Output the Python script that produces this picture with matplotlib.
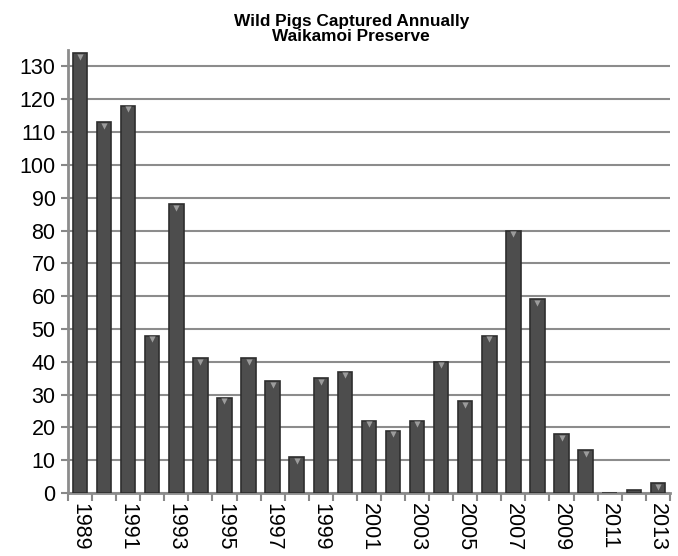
import matplotlib.pyplot as plt
import numpy as np

plt.rcParams['font.family'] = ['Liberation Sans', 'DejaVu Sans']

# Data
years = list(range(1989, 2014))
pigs = [134, 113, 118, 48, 88, 41, 29, 41, 34, 11, 35, 37, 22,
        19, 22, 40, 28, 48, 80, 59, 18, 13, 0, 1, 3]
year_labels = [str(y) if (y - 1989) % 2 == 0 else '' for y in years]

fig = plt.figure(figsize=(6.78, 5.56), dpi=100)
ax = fig.add_axes([0.1003, 0.1133, 0.8877, 0.7967])

x = np.arange(len(years))
ax.bar(x, pigs, width=0.6, color='#4d4d4d', edgecolor='#2e2e2e', linewidth=1.2, zorder=3)
# light bevel highlight on bar tops
tops = [(xi, v) for xi, v in zip(x, pigs) if v > 2]
ax.scatter([t[0] for t in tops], [t[1] - 1.1 for t in tops], marker='v', s=20,
           color='#9c9c9c', zorder=4, linewidths=0)

ax.set_xlim(-0.5, len(years) - 0.5)
ax.set_ylim(0, 135)
ax.set_yticks(range(0, 131, 10))
ax.tick_params(axis='y', labelsize=15.5, length=5, color='#888888', width=1.5, pad=4)

ax.set_xticks(x)
ax.set_xticklabels(year_labels, rotation=270, fontsize=15.5)
ax.set_xticks(np.arange(-0.5, len(years)), minor=True)
ax.tick_params(axis='x', which='major', length=0, pad=7)
ax.tick_params(axis='x', which='minor', length=6, color='#888888', width=1.5)

ax.yaxis.grid(True, color='#8c8c8c', linewidth=1.5, zorder=0)
ax.set_axisbelow(True)
for s in ['top', 'right']:
    ax.spines[s].set_visible(False)
for s in ['left', 'bottom']:
    ax.spines[s].set_color('#8c8c8c')
    ax.spines[s].set_linewidth(2)

fig.text(0.518, 0.948, 'Wild Pigs Captured Annually\nWaikamoi Preserve', ha='center',
         va='center', fontsize=12.4, fontweight='bold', linespacing=1.0)

fig.savefig('out.png', dpi=100)
